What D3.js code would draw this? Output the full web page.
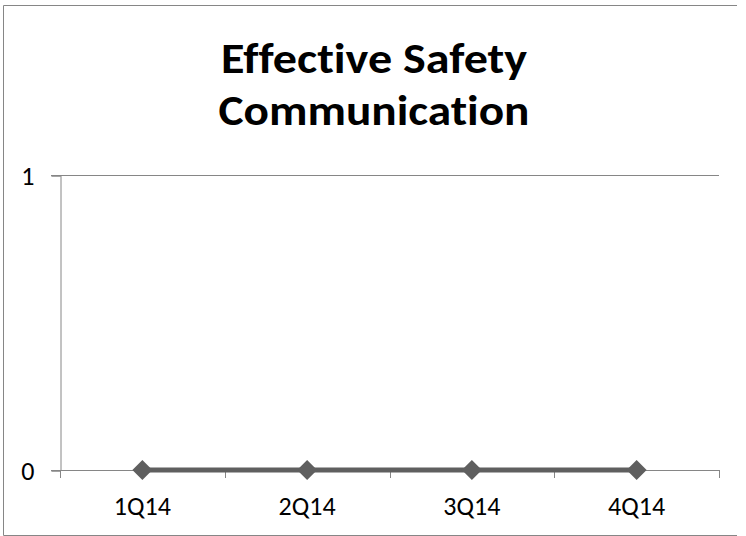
<!DOCTYPE html>
<html><head><meta charset="utf-8">
<script src="https://cdn.jsdelivr.net/npm/d3@7"></script>
<style>body{margin:0;background:#fff}svg{display:block}text{font-variant-ligatures:none}</style>
</head><body>
<script>
const categories = ["1Q14","2Q14","3Q14","4Q14"];
const values = [0,0,0,0];
const yTicks = [0,1];
const titleLines = ["Effective Safety","Communication"];

const W=746,H=536;
const font = "Carlito, Calibri, Lato, 'Liberation Sans', sans-serif";
const svg = d3.select("body").append("svg").attr("width",W).attr("height",H);
svg.append("rect").attr("width",W).attr("height",H).attr("fill","#fff");
// outer frame
svg.append("path").attr("d","M737,5.5H3.5V535.5H737").attr("fill","none").attr("stroke","#868686").attr("stroke-width",1);

const x = d3.scaleBand().domain(categories).range([60,719]);
const y = d3.scaleLinear().domain([0,1]).range([470,175]);
const axisColor = "#868686";

// gridline
svg.append("g").selectAll("line").data(yTicks.filter(d=>d>0)).join("line")
  .attr("x1",51).attr("x2",719).attr("y1",d=>Math.round(y(d))+0.5).attr("y2",d=>Math.round(y(d))+0.5)
  .attr("stroke",axisColor).attr("stroke-width",1);

// y axis
const yAxis = svg.append("g").attr("transform","translate(60.5,0.5)")
  .call(d3.axisLeft(y).tickValues(yTicks).tickSize(9).tickPadding(17).tickFormat(d3.format("d")));
yAxis.select(".domain").attr("stroke",axisColor);
yAxis.selectAll(".tick line").attr("stroke",axisColor);
yAxis.selectAll("text").attr("font-family",font).attr("font-size",26).attr("fill","#000").attr("dy","0.35em");

// x axis
const xAxis = svg.append("g").attr("transform","translate(0,470.5)")
  .call(d3.axisBottom(x).tickSize(0).tickPadding(26));
xAxis.select(".domain").remove();
xAxis.selectAll("text").attr("font-family",font).attr("font-size",26).attr("fill","#000");
const boundaries = categories.map(c=>x(c)).concat([x.range()[1]]);
svg.append("g").selectAll("line").data(boundaries).join("line")
  .attr("x1",d=>Math.round(d)+0.5).attr("x2",d=>Math.round(d)+0.5).attr("y1",470).attr("y2",478)
  .attr("stroke",axisColor);
svg.append("line").attr("x1",51).attr("x2",719).attr("y1",470.5).attr("y2",470.5).attr("stroke",axisColor);

// series
const cx = d=>x(d)+x.bandwidth()/2;
const line = d3.line().x((d,i)=>cx(categories[i])).y(d=>y(d));
svg.append("path").datum(values).attr("d",line).attr("fill","none").attr("stroke","#5f5f5f").attr("stroke-width",5);
svg.append("g").selectAll("path").data(values).join("path")
  .attr("transform",(d,i)=>`translate(${cx(categories[i])},${y(d)})`)
  .attr("d",d3.symbol().type(d3.symbolDiamond2).size(255))
  .attr("fill","#5f5f5f");

// title
const titleWidths = [306, 311];
svg.append("g").selectAll("text").data(titleLines).join("text")
  .attr("x",374).attr("y",(d,i)=>73+i*52).attr("text-anchor","middle")
  .attr("font-family",font).attr("font-weight","bold").attr("font-size",43).attr("fill","#000")
  .attr("textLength",(d,i)=>titleWidths[i]).attr("lengthAdjust","spacingAndGlyphs")
  .text(d=>d);
</script>
</body></html>
